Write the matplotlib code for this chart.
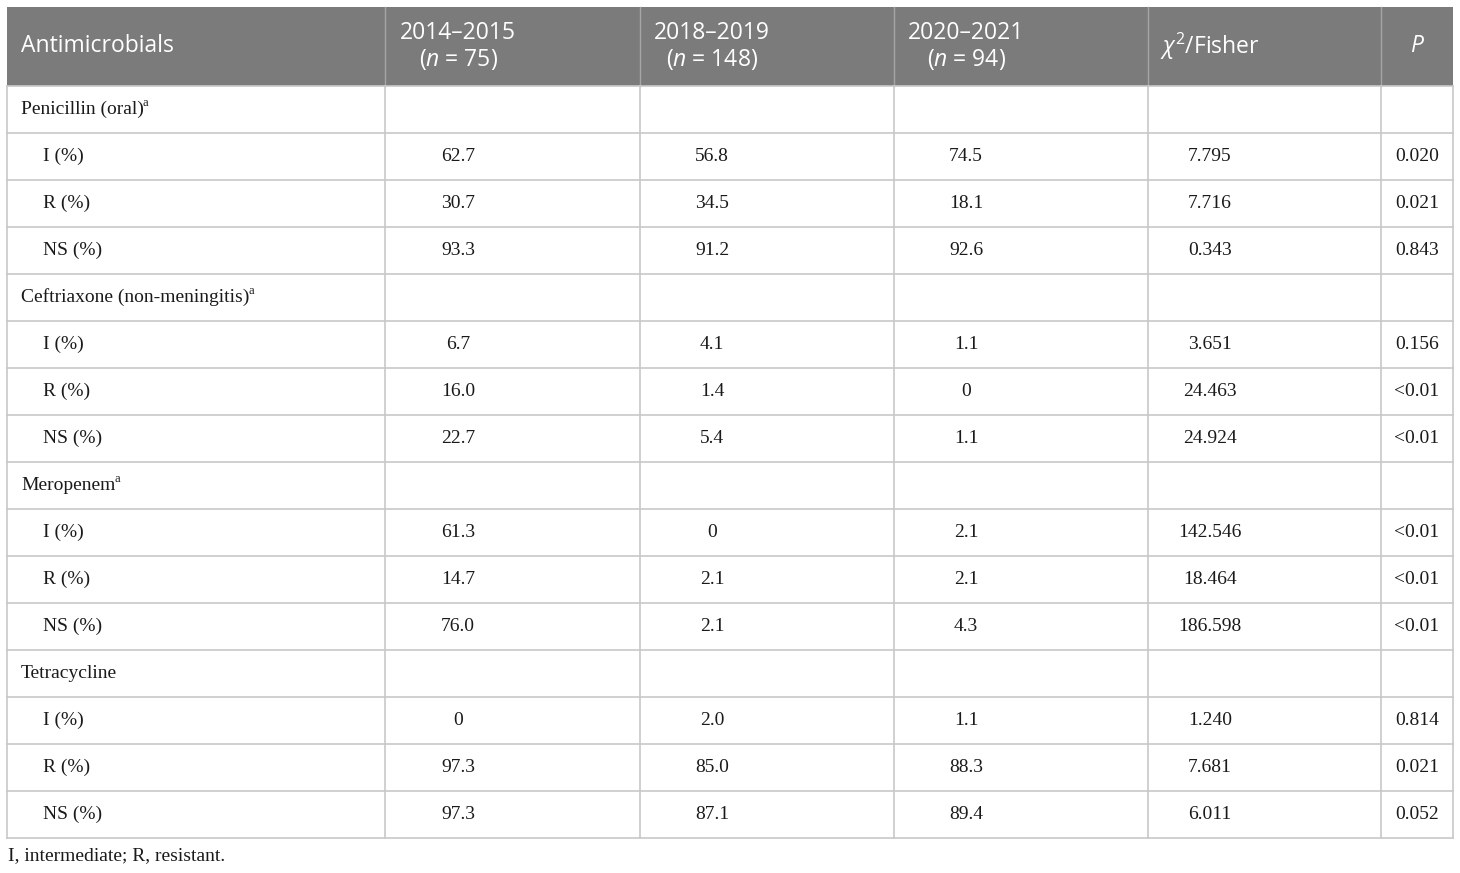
import matplotlib
matplotlib.use('Agg')
from matplotlib import pyplot as plt

plt.rcParams['mathtext.fontset'] = 'custom'
plt.rcParams['mathtext.rm'] = 'Open Sans'
plt.rcParams['mathtext.it'] = 'Open Sans:italic'

headers = ['Antimicrobials', '2014\u20132015\n($\\mathit{n}$ = 75)', '2018\u20132019\n($\\mathit{n}$ = 148)',
           '2020\u20132021\n($\\mathit{n}$ = 94)', '$\\mathit{\\chi}^2$/Fisher', '$\\mathit{P}$']

row_labels = ['Penicillin (oral)', 'I (%)', 'R (%)', 'NS (%)',
              'Ceftriaxone (non-meningitis)', 'I (%)', 'R (%)', 'NS (%)',
              'Meropenem', 'I (%)', 'R (%)', 'NS (%)',
              'Tetracycline', 'I (%)', 'R (%)', 'NS (%)']
group_rows = [0, 4, 8, 12]
superscript_a = [0, 4, 8]

col_2014 = ['', '62.7', '30.7', '93.3', '', '6.7', '16.0', '22.7', '', '61.3', '14.7', '76.0', '', '0', '97.3', '97.3']
col_2018 = ['', '56.8', '34.5', '91.2', '', '4.1', '1.4', '5.4', '', '0', '2.1', '2.1', '', '2.0', '85.0', '87.1']
col_2020 = ['', '74.5', '18.1', '92.6', '', '1.1', '0', '1.1', '', '2.1', '2.1', '4.3', '', '1.1', '88.3', '89.4']
col_chi = ['', '7.795', '7.716', '0.343', '', '3.651', '24.463', '24.924', '', '142.546', '18.464', '186.598',
           '', '1.240', '7.681', '6.011']
col_p = ['', '0.020', '0.021', '0.843', '', '0.156', '<0.01', '<0.01', '', '<0.01', '<0.01', '<0.01',
         '', '0.814', '0.021', '0.052']

footnote = 'I, intermediate; R, resistant.'

# layout in pixels
W, H = 1460, 873
col_edges = [7, 385, 640, 894, 1148, 1381, 1453]
text_x = [458, 712, 966, 1210, 1417]
top, head_bot, row_h = 7, 86, 47
header_gray = '#7b7b7b'
grid_col = '#c8c8c8'
body_fs = 14

fig = plt.figure(figsize=(W / 100, H / 100), dpi=100)
ax = fig.add_axes([0, 0, 1, 1])
ax.set_xlim(0, W)
ax.set_ylim(H, 0)
ax.axis('off')

# header
ax.add_patch(plt.Rectangle((col_edges[0], top), col_edges[-1] - col_edges[0], head_bot - top,
                           facecolor=header_gray, edgecolor='none'))
for x in col_edges[1:-1]:
    ax.plot([x, x], [top, head_bot], color='#a5a5a5', lw=1)
hy = (top + head_bot) / 2
ax.text(21, hy, headers[0], color='white', fontsize=16.5, family='Open Sans', va='center', ha='left')
for x, h in zip(text_x, headers[1:]):
    ax.text(x, hy, h, color='white', fontsize=16.5, family='Open Sans', va='center', ha='center',
            linespacing=1.15)

# body grid
n = len(row_labels)
bot = head_bot + n * row_h
for i in range(n + 1):
    y = head_bot + i * row_h
    ax.plot([col_edges[0], col_edges[-1]], [y, y], color=grid_col, lw=1.2)
for x in col_edges:
    ax.plot([x, x], [head_bot, bot], color=grid_col, lw=1.2)

fig.canvas.draw()
renderer = fig.canvas.get_renderer()
inv = ax.transData.inverted()

cols = [col_2014, col_2018, col_2020, col_chi, col_p]
for i, lab in enumerate(row_labels):
    yc = head_bot + i * row_h + row_h / 2
    x0 = 21 if i in group_rows else 43
    t = ax.text(x0, yc, lab, fontsize=body_fs, family='Liberation Serif', va='center', ha='left', color='#1a1a1a')
    if i in superscript_a:
        bb = t.get_window_extent(renderer)
        xr = inv.transform((bb.x1, bb.y1))[0]
        ax.text(xr - 1, yc - 6, 'a', fontsize=9, family='Liberation Serif', va='center', ha='left',
                color='#1a1a1a')
    for x, c in zip(text_x, cols):
        ax.text(x, yc, c[i], fontsize=body_fs, family='Liberation Serif', va='center', ha='center',
                color='#1a1a1a')

ax.text(8, 856, footnote, fontsize=body_fs, family='Liberation Serif', va='center', ha='left', color='#1a1a1a')

fig.savefig('out.png', dpi=100)
